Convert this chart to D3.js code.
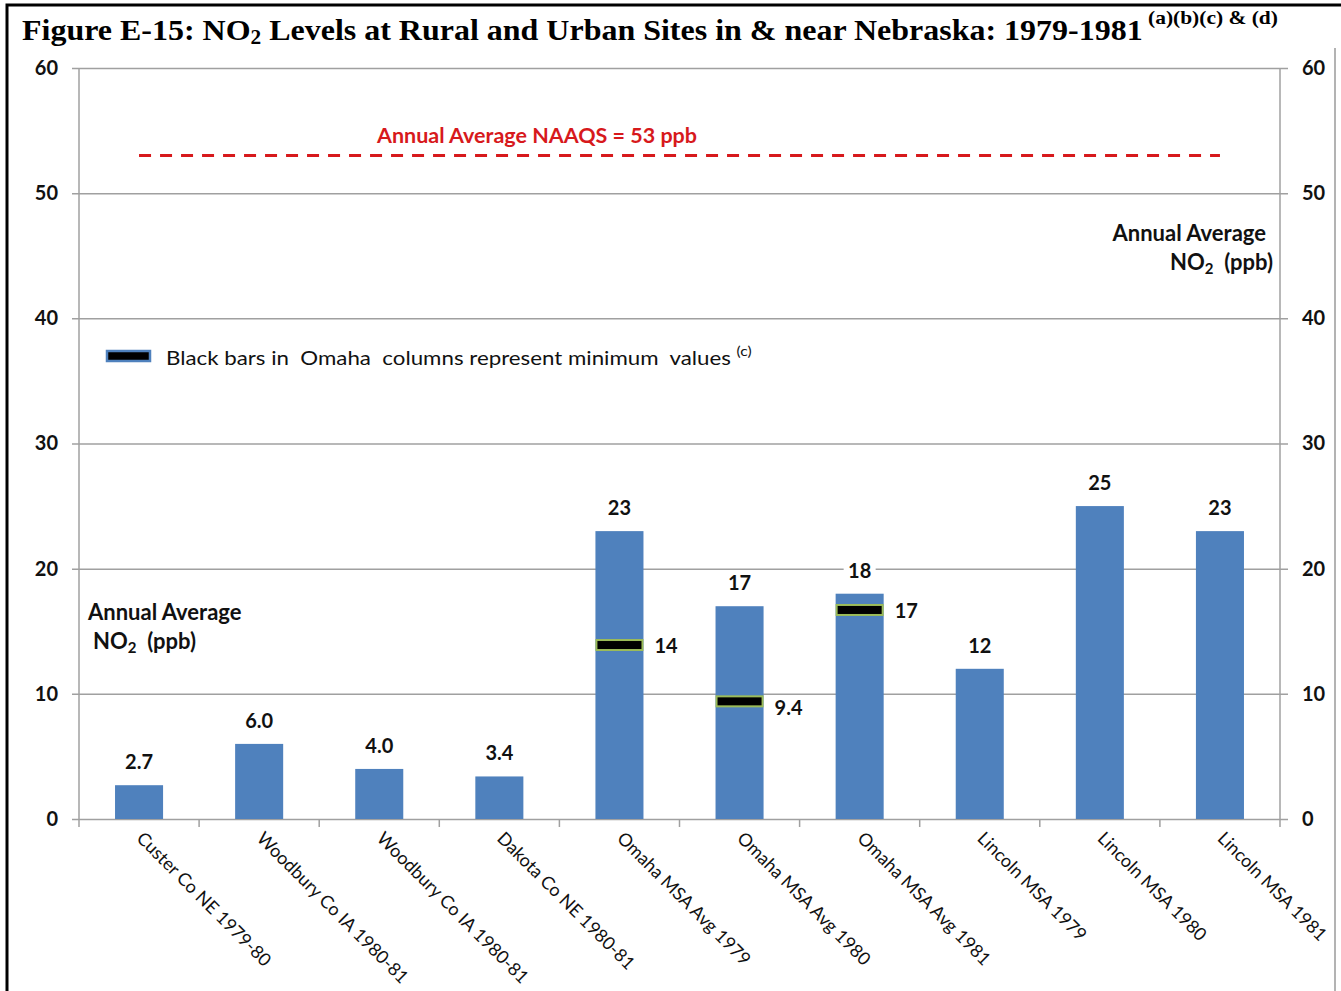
<!DOCTYPE html>
<html>
<head>
<meta charset="utf-8">
<script src="https://cdn.jsdelivr.net/npm/d3@7"></script>
<style>
body { margin: 0; background: #fff; }
svg { display: block; }
</style>
</head>
<body>
<script>
// chart values
var sites = ["Custer Co NE 1979-80", "Woodbury Co IA 1980-81", "Woodbury Co IA 1980-81 ", "Dakota Co NE 1980-81",
	"Omaha MSA Avg 1979", "Omaha MSA Avg 1980", "Omaha MSA Avg 1981", "Lincoln MSA 1979", "Lincoln MSA 1980", "Lincoln MSA 1981"];
var no2Avg = [2.7, 6.0, 4.0, 3.4, 23, 17, 18, 12, 25, 23];
var minSites = ["Omaha MSA Avg 1979", "Omaha MSA Avg 1980", "Omaha MSA Avg 1981"];
var no2Min = [13.9, 9.4, 16.7];
var yTicks = [0, 10, 20, 30, 40, 50, 60];
var naaqs = 53;

(function(){
	var W = 1341, H = 991,
		left = 79, right = 1280, top = 68, bottom = 819,
		blue = "#4f81bd", grid = "#a0a0a0",
		sans = "Lato, 'Open Sans', sans-serif";

	var svg = d3.select("body").append("svg").attr("width", W).attr("height", H);

	// frame
	svg.append("path").attr("d", "M7,991V5H1341").attr("fill", "none").attr("stroke", "#000").attr("stroke-width", 3);
	svg.append("line").attr("x1", 1335).attr("x2", 1335).attr("y1", 48).attr("y2", H)
		.attr("stroke", "#9a9a9a").attr("stroke-width", 1.5);

	// squeeze a text sideways so it fills a given width
	function fitWidth(sel, x0, width){
		var tw = sel.node().getComputedTextLength();
		sel.attr("transform", "translate(" + x0 + ",0) scale(" + (width / tw) + ",1) translate(" + (-x0) + ",0)");
	}

	// title
	var title = svg.append("text").attr("x", 22).attr("y", 40)
		.attr("font-family", "'Liberation Serif', 'Times New Roman', serif").attr("font-weight", "bold").attr("font-size", 30);
	title.append("tspan").text("Figure E-15: NO");
	title.append("tspan").attr("font-size", 20).attr("dy", 4).text("2");
	title.append("tspan").attr("dy", -4).text(" Levels at Rural and Urban Sites in & near Nebraska: 1979-1981");
	fitWidth(title, 22, 1121);
	var sup = svg.append("text").attr("x", 1148).attr("y", 24)
		.attr("font-family", "'Liberation Serif', 'Times New Roman', serif").attr("font-weight", "bold").attr("font-size", 19)
		.text("(a)(b)(c) & (d)");
	fitWidth(sup, 1148, 130);

	var x = d3.scaleBand().domain(sites).range([left, right]).paddingInner(0.6).paddingOuter(0.3);
	var xb = d3.scaleBand().domain(sites).range([left, right]);
	var y = d3.scaleLinear().domain([0, 60]).range([bottom, top]);

	// gridlines with both side ticks
	var g = svg.append("g").attr("transform", "translate(" + (left - 7) + ",0)")
		.call(d3.axisRight(y).tickValues(yTicks).tickSize(right - left + 15).tickFormat(""));
	g.select(".domain").remove();
	g.selectAll(".tick line").attr("stroke", grid).attr("stroke-width", 1.5);

	// y labels, both sides
	var yl = svg.append("g").attr("transform", "translate(" + left + ",0)")
		.call(d3.axisLeft(y).tickValues(yTicks).tickSize(0).tickPadding(21));
	var yr = svg.append("g").attr("transform", "translate(" + right + ",0)")
		.call(d3.axisRight(y).tickValues(yTicks).tickSize(0).tickPadding(22));
	[yl, yr].forEach(function(a){
		a.select(".domain").remove();
		a.selectAll("text").attr("font-family", sans).attr("font-weight", "bold").attr("font-size", 20).attr("fill", "#111");
	});

	// axis lines
	svg.append("line").attr("x1", left).attr("x2", left).attr("y1", top).attr("y2", bottom + 8).attr("stroke", grid).attr("stroke-width", 1.5);
	svg.append("line").attr("x1", right).attr("x2", right).attr("y1", top).attr("y2", bottom + 8).attr("stroke", grid).attr("stroke-width", 1.5);
	svg.selectAll(".xtick").data(sites.slice(1)).enter().append("line").attr("class", "xtick")
		.attr("x1", function(d){ return xb(d); }).attr("x2", function(d){ return xb(d); })
		.attr("y1", bottom).attr("y2", bottom + 8).attr("stroke", grid).attr("stroke-width", 1.5);

	// NAAQS line
	svg.append("line").attr("x1", x(sites[0]) + x.bandwidth() / 2).attr("x2", x(sites[9]) + x.bandwidth() / 2)
		.attr("y1", y(naaqs)).attr("y2", y(naaqs))
		.attr("stroke", "#d7191c").attr("stroke-width", 3).attr("stroke-dasharray", "12,9");
	svg.append("text").attr("x", 537).attr("y", y(naaqs) - 13).attr("text-anchor", "middle")
		.attr("font-family", sans).attr("font-weight", "bold").attr("font-size", 21.5).attr("fill", "#d7191c")
		.text("Annual Average NAAQS = " + naaqs + " ppb");

	// bars
	var fmt = function(v){ return v < 10 ? d3.format(".1f")(v) : d3.format(".0f")(v); };
	svg.selectAll(".bar").data(sites).enter().append("rect").attr("class", "bar")
		.attr("x", function(d){ return x(d); }).attr("width", x.bandwidth())
		.attr("y", function(d, i){ return y(no2Avg[i]); })
		.attr("height", function(d, i){ return bottom - y(no2Avg[i]); })
		.attr("fill", blue);

	var lab = svg.selectAll(".vlab").data(sites).enter().append("g").attr("class", "vlab")
		.attr("transform", function(d, i){ return "translate(" + (x(d) + x.bandwidth() / 2) + "," + (y(no2Avg[i]) - 23) + ")"; });
	lab.append("rect").attr("x", -16).attr("y", -11).attr("width", 32).attr("height", 22).attr("fill", "#fff");
	lab.append("text").attr("text-anchor", "middle").attr("dy", "0.35em")
		.attr("font-family", sans).attr("font-weight", "bold").attr("font-size", 20).attr("fill", "#111")
		.text(function(d, i){ return fmt(no2Avg[i]); });

	// minimum markers
	svg.selectAll(".minbar").data(minSites).enter().append("rect").attr("class", "minbar")
		.attr("x", function(d){ return x(d) + 1; }).attr("width", x.bandwidth() - 2)
		.attr("y", function(d, i){ return y(no2Min[i]) - 5; }).attr("height", 10)
		.attr("fill", "#000").attr("stroke", "#9bbb59").attr("stroke-width", 2);
	svg.selectAll(".minlab").data(minSites).enter().append("text").attr("class", "minlab")
		.attr("x", function(d){ return x(d) + x.bandwidth() + 11; })
		.attr("y", function(d, i){ return y(no2Min[i]) + (no2Min[i] < 10 ? 7 : 1); }).attr("dy", "0.35em")
		.attr("font-family", sans).attr("font-weight", "bold").attr("font-size", 20).attr("fill", "#111")
		.text(function(d, i){ return fmt(no2Min[i]); });

	// x labels
	svg.selectAll(".xlab").data(sites).enter().append("text").attr("class", "xlab")
		.attr("transform", function(d){ return "translate(" + (x(d) + x.bandwidth() / 2 + 1) + "," + (bottom + 16) + ") rotate(45)"; })
		.attr("dy", "0.35em")
		.attr("font-family", sans).attr("font-size", 18).attr("fill", "#111")
		.text(function(d){ return d.trim(); });

	// legend
	svg.append("rect").attr("x", 107).attr("y", 351).attr("width", 43).attr("height", 10)
		.attr("fill", "#000").attr("stroke", blue).attr("stroke-width", 2.5);
	var leg = svg.append("text").attr("x", 166).attr("y", 365)
		.attr("font-family", sans).attr("font-size", 20).attr("fill", "#111").attr("xml:space", "preserve");
	leg.append("tspan").text("Black bars in  Omaha  columns represent minimum  values ");
	leg.append("tspan").attr("font-size", 14).attr("dy", -9).text("(c)");
	fitWidth(leg, 166, 586);

	// axis titles
	function axisTitle(xp, yp, anchor){
		var t = svg.append("g").attr("font-family", sans).attr("font-weight", "bold").attr("font-size", 22).attr("fill", "#111");
		t.append("text").attr("x", xp[0]).attr("y", yp).attr("text-anchor", anchor).text("Annual Average");
		var t2 = t.append("text").attr("x", xp[1]).attr("y", yp + 29).attr("text-anchor", anchor).attr("xml:space", "preserve");
		t2.append("tspan").text("NO");
		t2.append("tspan").attr("font-size", 15).attr("dy", 4).text("2");
		t2.append("tspan").attr("dy", -4).text("  (ppb)");
	}
	axisTitle([88, 93], 620, "start");
	axisTitle([1266, 1273], 241, "end");
})();
</script>
</body>
</html>
